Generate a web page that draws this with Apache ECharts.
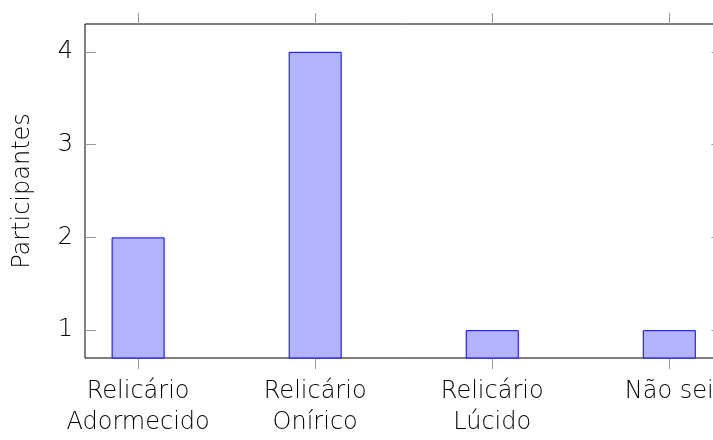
<!DOCTYPE html>
<html>
<head>
<meta charset="utf-8">
<script src="https://cdn.jsdelivr.net/npm/echarts@6/dist/echarts.min.js"></script>
<style>
  html, body { margin: 0; padding: 0; background: #fff; overflow: hidden; }
  #chart { width: 723px; height: 440px; }
</style>
</head>
<body>
<div id="chart"></div>
<script>
// Survey answers: how many participants chose each option
const categories = ['Relicário\nAdormecido', 'Relicário\nOnírico', 'Relicário\nLúcido', 'Não sei'];
const participants = [2, 4, 1, 1];
const yTicks = [1, 2, 3, 4];
const xTicks = [0, 1, 2, 3];

const FONT = 'DejaVu Sans';
const WEIGHT = 300;
const TEXT_COLOR = '#000';
const TICK_COLOR = '#9a9a9a';

const chart = echarts.init(document.getElementById('chart'), null, { renderer: 'canvas' });

const xRange = { min: -0.3, max: 3.3 };
const yRange = { min: 0.7, max: 4.3 };

chart.setOption({
  animation: false,
  backgroundColor: '#fff',
  grid: {
    left: 85, top: 24, bottom: 82, right: 0.6,
    containLabel: false,
    outerBoundsMode: 'none',
    show: true, borderColor: '#000', borderWidth: 1, backgroundColor: 'transparent'
  },
  xAxis: [
    {
      type: 'value', position: 'bottom', ...xRange,
      axisLine: { show: false, onZero: false },
      splitLine: { show: false },
      axisTick: { show: true, inside: false, length: 11, customValues: xTicks,
                  lineStyle: { color: TICK_COLOR, width: 1 } },
      axisLabel: {
        show: true, customValues: xTicks, margin: 18,
        formatter: v => categories[Math.round(v)] ?? '',
        fontFamily: FONT, fontWeight: WEIGHT, fontSize: 24, color: TEXT_COLOR,
        lineHeight: 31.5, align: 'center'
      }
    },
    {
      type: 'value', position: 'top', ...xRange,
      axisLine: { show: false, onZero: false },
      splitLine: { show: false },
      axisTick: { show: true, inside: false, length: 11, customValues: xTicks,
                  lineStyle: { color: TICK_COLOR, width: 1 } },
      axisLabel: { show: false }
    }
  ],
  yAxis: [
    {
      type: 'value', position: 'left', ...yRange,
      name: 'Participantes', nameLocation: 'middle', nameGap: 50,
      nameTextStyle: { fontFamily: FONT, fontWeight: WEIGHT, fontSize: 24, color: TEXT_COLOR },
      axisLine: { show: false, onZero: false },
      splitLine: { show: false },
      axisTick: { show: true, inside: true, length: 11, customValues: yTicks,
                  lineStyle: { color: TICK_COLOR, width: 1 } },
      axisLabel: { show: true, customValues: yTicks, margin: 12,
                   fontFamily: FONT, fontWeight: WEIGHT, fontSize: 24, color: TEXT_COLOR }
    },
    {
      type: 'value', position: 'right', ...yRange,
      axisLine: { show: false, onZero: false },
      splitLine: { show: false },
      axisTick: { show: true, inside: true, length: 11, customValues: yTicks,
                  lineStyle: { color: TICK_COLOR, width: 1 } },
      axisLabel: { show: false }
    }
  ],
  series: [
    {
      type: 'bar',
      xAxisIndex: 0, yAxisIndex: 0,
      barWidth: 53,
      clip: true,
      data: participants.map((v, i) => [i, v]),
      itemStyle: { color: '#b3b3ff', borderColor: '#0000ff', borderWidth: 1 }
    }
  ]
});
</script>
</body>
</html>
